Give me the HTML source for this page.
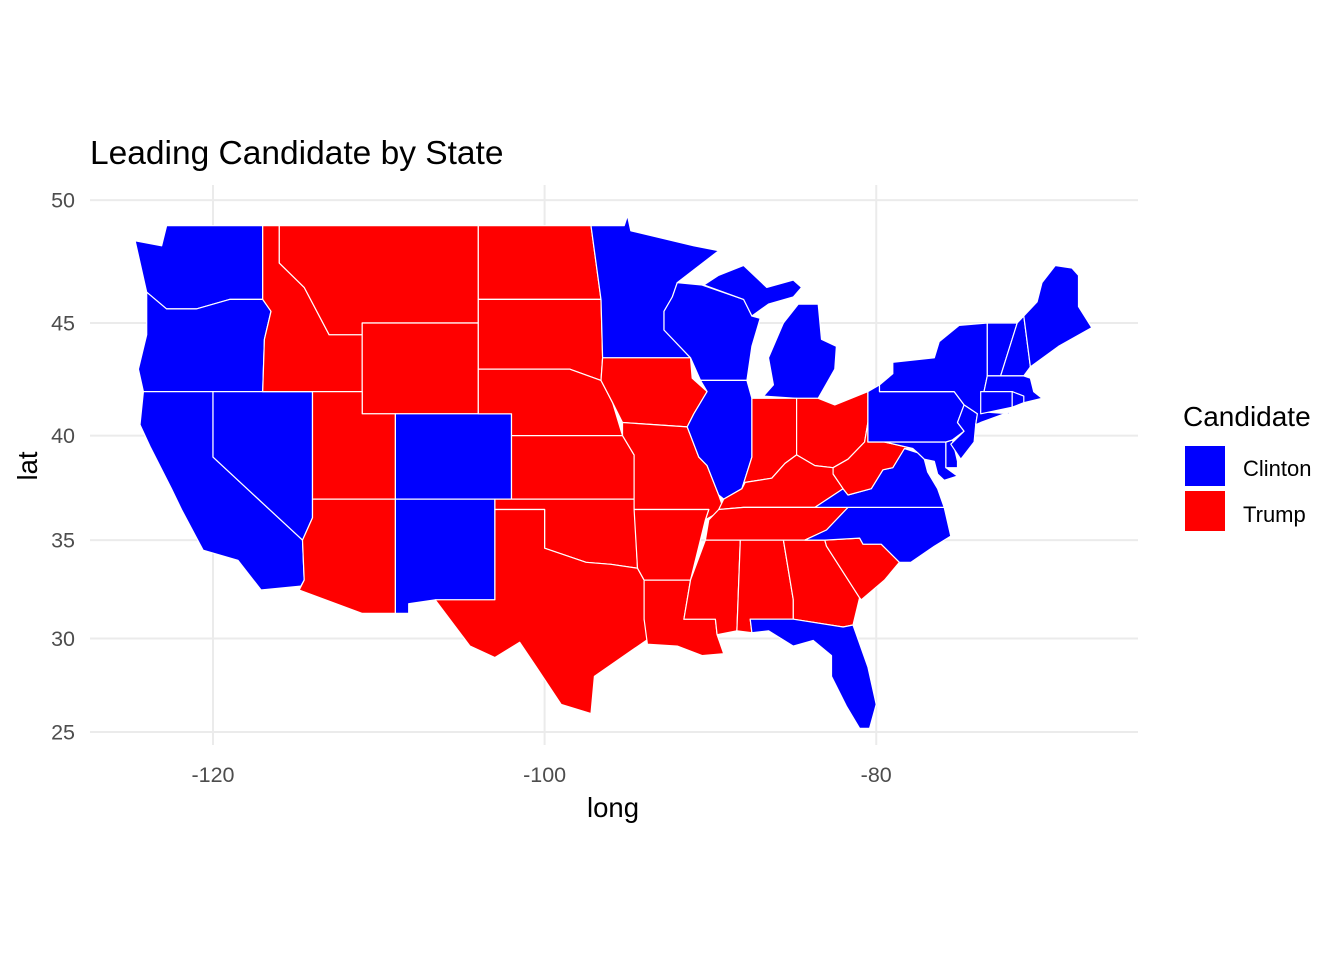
<!DOCTYPE html>
<html><head><meta charset="utf-8"><style>
body{margin:0;background:#fff;}
svg{font-family:"Liberation Sans",Arial,sans-serif;display:block}
</style></head><body>
<svg id="chart" width="1344" height="960" viewBox="0 0 1344 960" xmlns="http://www.w3.org/2000/svg">
<rect width="1344" height="960" fill="#fff"/>
<g id="grid"></g>
<g id="states"></g>
<g id="axes"></g>
<text x="90" y="164" font-size="33.5" fill="#000">Leading Candidate by State</text>
<text x="613" y="817" font-size="27.5" text-anchor="middle" fill="#000">long</text>
<text transform="translate(37,466) rotate(-90)" font-size="27.5" text-anchor="middle" fill="#000">lat</text>
<g>
<text x="1183" y="426" font-size="28" fill="#000">Candidate</text>
<rect x="1185" y="446" width="40" height="40" fill="#0000ff"/>
<text x="1243" y="476" font-size="22" fill="#000">Clinton</text>
<rect x="1185" y="491" width="40" height="40" fill="#ff0000"/>
<text x="1243" y="522" font-size="22" fill="#000">Trump</text>
</g>
</svg>
<script>
const xTicks=[-120,-100,-80];
const yTicks=[25,30,35,40,45,50];
const winners={WA:'C',OR:'C',CA:'C',NV:'C',ID:'T',MT:'T',WY:'T',UT:'T',AZ:'T',CO:'C',NM:'C',ND:'T',SD:'T',NE:'T',KS:'T',OK:'T',TX:'T',MN:'C',IA:'T',MO:'T',AR:'T',LA:'T',WI:'C',IL:'C',MI:'C',MI2:'C',IN:'T',OH:'T',KY:'T',TN:'T',MS:'T',AL:'T',GA:'T',FL:'C',SC:'T',NC:'C',VA:'C',WV:'T',MD:'C',DE:'C',PA:'C',NJ:'C',NY:'C',VT:'C',NH:'C',ME:'C',MA:'C',CT:'C',RI:'C'};
const shapes={
WA:[[-124.7,48.4],[-123.1,48.2],[-122.8,49],[-117,49],[-117,46],[-119,46],[-121,45.6],[-122.8,45.6],[-124,46.3]],
OR:[[-124,46.3],[-122.8,45.6],[-121,45.6],[-119,46],[-117,46],[-116.5,45.5],[-116.9,44.3],[-117,42],[-124.2,42],[-124.5,43],[-124,44.5]],
CA:[[-124.2,42],[-120,42],[-120,39],[-114.6,35],[-114.5,33],[-114.7,32.7],[-117.1,32.5],[-118.5,34],[-120.6,34.5],[-121.9,36.5],[-122.5,37.5],[-123.8,39.5],[-124.4,40.5]],
NV:[[-120,42],[-114,42],[-114,36.1],[-114.6,35],[-120,39]],
ID:[[-117,49],[-116,49],[-116,47.5],[-114.5,46.5],[-113,44.5],[-111,44.5],[-111,42],[-117,42],[-116.9,44.3],[-116.5,45.5],[-117,46]],
MT:[[-116,49],[-104,49],[-104,45],[-111,45],[-111,44.5],[-113,44.5],[-114.5,46.5],[-116,47.5]],
WY:[[-111,45],[-104,45],[-104,41],[-111,41]],
UT:[[-114,42],[-111,42],[-111,41],[-109,41],[-109,37],[-114,37]],
AZ:[[-114,37],[-109,37],[-109,31.3],[-111,31.3],[-114.8,32.5],[-114.5,33],[-114.6,35],[-114,36.1]],
CO:[[-109,41],[-102,41],[-102,37],[-109,37]],
NM:[[-109,37],[-103,37],[-103,32],[-106.6,32],[-108.2,31.8],[-108.2,31.3],[-109,31.3]],
ND:[[-104,49],[-97.2,49],[-96.6,46],[-104,46]],
SD:[[-104,46],[-96.6,46],[-96.5,43.5],[-96.6,42.5],[-98.5,43],[-104,43]],
NE:[[-104,43],[-98.5,43],[-96.6,42.5],[-95.9,41.5],[-95.3,40],[-102,40],[-102,41],[-104,41]],
KS:[[-102,40],[-95.3,40],[-94.6,39.1],[-94.6,37],[-102,37]],
OK:[[-103,37],[-94.6,37],[-94.4,33.6],[-96,33.8],[-97.5,33.9],[-100,34.6],[-100,36.5],[-103,36.5]],
TX:[[-103,36.5],[-100,36.5],[-100,34.6],[-97.5,33.9],[-96,33.8],[-94.4,33.6],[-94,33],[-94,31],[-93.7,30],[-94.7,29.4],[-97,28],[-97.2,26],[-99,26.5],[-100.5,28.5],[-101.5,29.8],[-103,29],[-104.5,29.6],[-106.6,32],[-103,32]],
MN:[[-97.2,49],[-95.2,49],[-95,49.4],[-94.8,48.8],[-91,48.2],[-89.5,48],[-92,46.7],[-92.3,46.1],[-92.8,45.5],[-92.8,44.7],[-91.2,43.5],[-96.5,43.5],[-96.6,46]],
IA:[[-96.5,43.5],[-91.2,43.5],[-91.1,42.6],[-90.2,42],[-91,41],[-91.4,40.4],[-95.3,40.6],[-95.9,41.5],[-96.6,42.5]],
MO:[[-95.3,40.6],[-91.4,40.4],[-90.7,39],[-90.2,38.6],[-89.5,37.2],[-89.2,36.5],[-90.3,36],[-90.1,36.5],[-94.6,36.5],[-94.6,39.1],[-95.3,40]],
AR:[[-94.6,36.5],[-90.1,36.5],[-90.3,36],[-91.2,33],[-94,33],[-94.4,33.6]],
LA:[[-94,33],[-91.2,33],[-91.6,31],[-89.7,31],[-89.6,30.2],[-89.2,29.2],[-90.5,29.1],[-92,29.6],[-93.8,29.7],[-94,31]],
WI:[[-92.3,46.1],[-92,46.7],[-90.5,46.6],[-88,46],[-87.5,45.3],[-87,45.2],[-87.5,44],[-87.8,42.5],[-90.6,42.5],[-91.2,43.5],[-92.8,44.7],[-92.8,45.5]],
IL:[[-90.6,42.5],[-87.8,42.5],[-87.5,41.7],[-87.5,39],[-88.1,37.5],[-89.2,37],[-89.5,37.2],[-90.2,38.6],[-90.7,39],[-91.4,40.4],[-91,41],[-90.2,42]],
MI:[[-86.8,41.8],[-84.8,41.7],[-83.5,41.7],[-82.5,43],[-82.4,44],[-83.3,44.3],[-83.5,45.8],[-84.7,45.8],[-85.6,45],[-86.5,43.5],[-86.2,42.3]],
MI2:[[-90.4,46.6],[-88,46],[-87.5,45.3],[-86.5,45.8],[-85,46.1],[-84.5,46.5],[-85,46.8],[-86.6,46.5],[-88,47.4],[-89.5,47]],
IN:[[-87.5,41.7],[-84.8,41.7],[-84.8,39.1],[-85.5,38.7],[-86.3,38],[-87.9,37.8],[-88.1,37.5],[-87.5,39]],
OH:[[-84.8,41.7],[-83.5,41.7],[-82.5,41.4],[-80.5,42],[-80.5,40.6],[-80.7,39.7],[-81.7,38.9],[-82.6,38.5],[-83.7,38.6],[-84.8,39.1]],
KY:[[-89.5,36.5],[-88,36.6],[-83.7,36.6],[-82,37.5],[-82.6,38.2],[-82.6,38.5],[-83.7,38.6],[-84.8,39.1],[-85.5,38.7],[-86.3,38],[-87.9,37.8],[-88.1,37.5],[-89.2,37]],
TN:[[-90.3,35],[-88.2,35],[-85.6,35],[-84.3,35],[-83,35.5],[-81.7,36.6],[-83.7,36.6],[-88,36.6],[-89.5,36.5],[-90.1,36]],
MS:[[-91.2,33],[-90.3,35],[-88.2,35],[-88.4,30.4],[-89.6,30.2],[-89.7,31],[-91.6,31]],
AL:[[-88.2,35],[-85.6,35],[-85,32],[-85,31],[-87.6,31],[-87.5,30.3],[-88.4,30.4]],
GA:[[-85.6,35],[-83.1,35],[-83,34.7],[-81,32.1],[-81.4,30.7],[-82,30.6],[-85,31],[-85,32]],
FL:[[-87.6,31],[-85,31],[-82,30.6],[-81.4,30.7],[-80.5,28.5],[-80,26.5],[-80.4,25.2],[-81,25.2],[-81.8,26.4],[-82.7,28],[-82.7,29.1],[-83.8,29.9],[-85,29.6],[-86.5,30.4],[-87.5,30.3]],
SC:[[-83.1,35],[-81,35.1],[-80.8,34.8],[-79.7,34.8],[-78.6,33.9],[-79.5,33],[-80.9,32],[-81,32.1],[-83,34.7]],
NC:[[-84.3,35],[-83,35.5],[-81.7,36.6],[-75.9,36.6],[-75.5,35.2],[-76.5,34.7],[-77.9,33.9],[-78.6,33.9],[-79.7,34.8],[-80.8,34.8],[-81,35.1],[-83.1,35]],
VA:[[-83.7,36.6],[-75.9,36.6],[-76.3,37.5],[-76.9,38.3],[-77.1,38.9],[-77.5,39.2],[-78.3,39.4],[-79,38.5],[-79.6,38.4],[-80.3,37.5],[-81.7,37.2],[-82,37.5]],
WV:[[-82.6,38.2],[-82,37.5],[-81.7,37.2],[-80.3,37.5],[-79.6,38.4],[-79,38.5],[-78.3,39.4],[-77.8,39.4],[-79.5,39.7],[-80.5,39.7],[-80.5,40.6],[-80.7,39.7],[-81.7,38.9],[-82.6,38.5]],
MD:[[-79.5,39.7],[-75.8,39.7],[-75.8,38.5],[-75.1,38.1],[-75.9,37.9],[-76.3,38.2],[-76.5,38.8],[-77.1,38.9],[-77.5,39.2],[-77.8,39.4]],
DE:[[-75.8,39.7],[-75.4,39.8],[-75.1,38.8],[-75.1,38.5],[-75.8,38.5]],
PA:[[-80.5,42],[-79.8,42.3],[-79.8,42],[-75.3,42],[-74.7,41.4],[-75.1,40.6],[-74.7,40.2],[-75.4,39.8],[-75.8,39.7],[-80.5,39.7]],
NJ:[[-74.7,41.4],[-73.9,41],[-74,40.5],[-74.1,39.7],[-74.9,38.9],[-75.5,39.6],[-74.7,40.2],[-75.1,40.6]],
NY:[[-79.8,42],[-79.8,42.3],[-79,42.8],[-79,43.3],[-76.5,43.5],[-76.2,44.2],[-75,44.9],[-73.3,45],[-73.3,42.7],[-73.5,42],[-73.7,41.1],[-72,41],[-71.9,41.1],[-73.7,40.6],[-74,40.5],[-73.9,41],[-74.7,41.4],[-75.3,42]],
VT:[[-73.3,45],[-71.5,45],[-72.5,42.7],[-73.3,42.7]],
NH:[[-71.5,45],[-71.1,45.3],[-70.7,43.1],[-71.1,42.7],[-72.5,42.7]],
ME:[[-71.1,45.3],[-70.3,45.9],[-70,46.7],[-69.2,47.4],[-68.2,47.3],[-67.8,47],[-67.8,45.7],[-67,44.8],[-69,44],[-70.7,43.1]],
MA:[[-73.5,42],[-73.3,42.7],[-71.1,42.7],[-70.7,42.6],[-70.5,42],[-70,41.7],[-71.1,41.5],[-71.8,42]],
CT:[[-73.7,42],[-71.8,42],[-71.8,41.3],[-73.7,41]],
RI:[[-71.8,42],[-71.1,41.8],[-71.1,41.5],[-71.8,41.3]]
};
const NS='http://www.w3.org/2000/svg';
const K=950;
function merc(lat){return Math.log(Math.tan(Math.PI/4+lat*Math.PI/360));}
function xs(lon){return 213+(lon+120)*K*Math.PI/180;}
function ys(lat){return 732-K*(merc(lat)-merc(25));}
const grid=document.getElementById('grid'),axes=document.getElementById('axes'),st=document.getElementById('states');
xTicks.forEach(v=>{
 const l=document.createElementNS(NS,'line');
 l.setAttribute('x1',xs(v));l.setAttribute('x2',xs(v));l.setAttribute('y1',185);l.setAttribute('y2',745);
 l.setAttribute('stroke','#ebebeb');l.setAttribute('stroke-width','2');
 
 
 grid.appendChild(l);
 const t=document.createElementNS(NS,'text');
 t.setAttribute('x',xs(v));t.setAttribute('y',782);t.setAttribute('font-size','21.5');t.setAttribute('fill','#4d4d4d');t.setAttribute('text-anchor','middle');
 t.textContent=v;
 
 
 axes.appendChild(t);
});
yTicks.forEach(v=>{
 const l=document.createElementNS(NS,'line');
 l.setAttribute('x1',90);l.setAttribute('x2',1138);l.setAttribute('y1',ys(v));l.setAttribute('y2',ys(v));
 l.setAttribute('stroke','#ebebeb');l.setAttribute('stroke-width','2');
 
 
 grid.appendChild(l);
 const t=document.createElementNS(NS,'text');
 t.setAttribute('x',75);t.setAttribute('y',ys(v)+7.5);t.setAttribute('font-size','21.5');t.setAttribute('fill','#4d4d4d');t.setAttribute('text-anchor','end');
 t.textContent=v;
 
 
 axes.appendChild(t);
});
Object.keys(shapes).forEach(k=>{
 const p=document.createElementNS(NS,'polygon');
 p.setAttribute('points',shapes[k].map(c=>xs(c[0]).toFixed(1)+','+ys(c[1]).toFixed(1)).join(' '));
 p.setAttribute('fill',winners[k]==='C'?'#0000ff':'#ff0000');
 p.setAttribute('stroke','#fff');p.setAttribute('stroke-width','1.2');p.setAttribute('stroke-linejoin','round');
 
 
 st.appendChild(p);
});
</script>
</body></html>
